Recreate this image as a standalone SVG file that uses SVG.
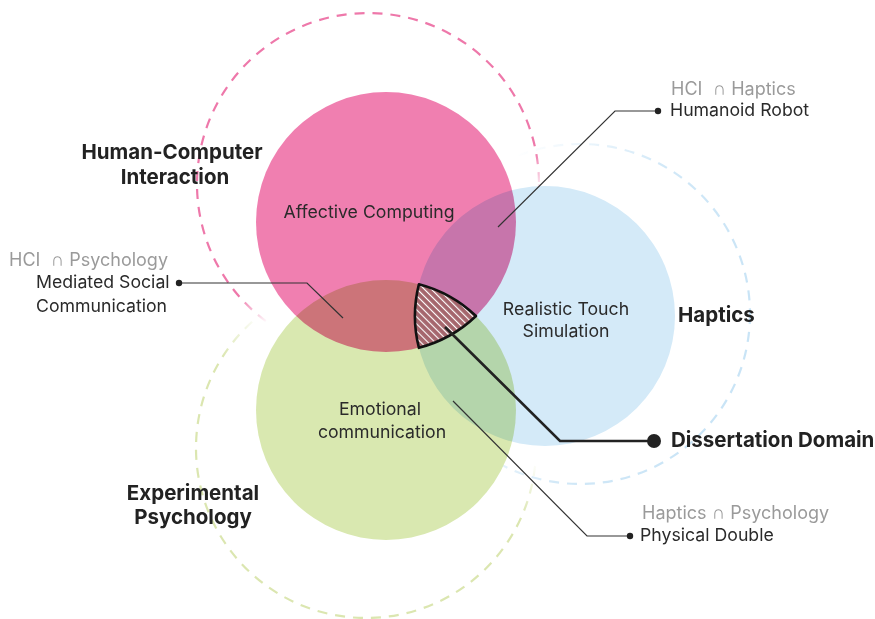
<svg xmlns="http://www.w3.org/2000/svg" width="875" height="619" viewBox="0 0 875 619">
<defs>
  <linearGradient id="gPinkDash" gradientUnits="userSpaceOnUse" x1="388" y1="224" x2="404" y2="257">
    <stop offset="0" stop-color="#ee78aa" stop-opacity="1"/>
    <stop offset="1" stop-color="#ee78aa" stop-opacity="0"/>
  </linearGradient>
  <linearGradient id="gBlueDash" x1="0.95" y1="0.6" x2="0.2" y2="0.35">
    <stop offset="0" stop-color="#c9e4f6" stop-opacity="1"/>
    <stop offset="0.45" stop-color="#c9e4f6" stop-opacity="0.85"/>
    <stop offset="1" stop-color="#c9e4f6" stop-opacity="0"/>
  </linearGradient>
  <linearGradient id="gGreenDash" gradientUnits="userSpaceOnUse" x1="370" y1="436" x2="396" y2="387">
    <stop offset="0" stop-color="#dbe6b0" stop-opacity="1"/>
    <stop offset="1" stop-color="#dbe6b0" stop-opacity="0"/>
  </linearGradient>
  <pattern id="hatch" patternUnits="userSpaceOnUse" width="5" height="5" patternTransform="rotate(-45)">
    <rect width="5" height="5" fill="#a5666d"/>
    <rect x="0" y="0" width="1.1" height="5" fill="#ffffff"/>
  </pattern>
  <style>
    .dash { fill: none; stroke-width: 2.2; stroke-dasharray: 10 8; }
    .blob { mix-blend-mode: multiply; }
    .lbl { font-family: Inter, "Liberation Sans", sans-serif; font-size: 17.7px; fill: #2a2a2a; }
    .cat { font-family: Inter, "Liberation Sans", sans-serif; font-size: 20.5px; font-weight: 700; fill: #222222; }
    .gray { font-family: Inter, "Liberation Sans", "DejaVu Sans", sans-serif; font-size: 18px; fill: #9a9a9a; }
    .cap { font-family: "DejaVu Sans", sans-serif; font-size: 19px; font-weight: 300; }
    .thin { fill: none; stroke: #333333; stroke-width: 1.2; }
    .thick { fill: none; stroke: #222222; stroke-width: 2.6; }
  </style>
</defs>
<rect width="875" height="619" fill="#ffffff"/>

<g id="dashed-rings">
  <circle cx="368" cy="184" r="171" class="dash" stroke="url(#gPinkDash)"/>
  <circle cx="580" cy="314" r="170" class="dash" stroke="url(#gBlueDash)"/>
  <circle cx="366" cy="448" r="170" class="dash" stroke="url(#gGreenDash)"/>
</g>

<g id="circles" style="isolation:isolate">
  <g id="node-affective"><circle class="blob" cx="386" cy="222" r="130" fill="#f07fb0"/></g>
  <g id="node-touch"><circle class="blob" cx="545" cy="316" r="130" fill="#d4eaf8"/></g>
  <g id="node-emotional"><circle class="blob" cx="386" cy="410" r="130" fill="#d9e8b0"/></g>
</g>

<g id="node-dissertation-region">
  <path d="M418.9 284.2 A130 130 0 0 1 476 316 A130 130 0 0 1 418.9 347.8 A130 130 0 0 1 418.9 284.2 Z" fill="url(#hatch)" stroke="#111111" stroke-width="2.6" stroke-linejoin="round"/>
</g>

<g id="connectors">
  <polyline class="thin" points="179,283 307,283 343,318"/>
  <circle cx="179" cy="283" r="3.2" fill="#222"/>
  <polyline class="thin" points="658,111 615,111 498,227"/>
  <circle cx="658" cy="111" r="3.2" fill="#222"/>
  <polyline class="thin" points="630,536 587,536 453,401"/>
  <circle cx="630" cy="536" r="3.2" fill="#222"/>
  <polyline class="thick" points="445,327 560,441 654,441"/>
  <circle cx="654" cy="441" r="7" fill="#222"/>
</g>

<g id="labels-circles">
  <text class="lbl" x="369" y="218" text-anchor="middle">Affective Computing</text>
  <text class="lbl" x="566" y="315" text-anchor="middle">Realistic Touch</text>
  <text class="lbl" x="566" y="337" text-anchor="middle">Simulation</text>
  <text class="lbl" x="380" y="415" text-anchor="middle">Emotional</text>
  <text class="lbl" x="382" y="438" text-anchor="middle">communication</text>
</g>

<g id="labels-categories">
  <text class="cat" x="172" y="159" text-anchor="middle">Human-Computer</text>
  <text class="cat" x="175" y="184" text-anchor="middle">Interaction</text>
  <text class="cat" x="678" y="322">Haptics</text>
  <text class="cat" x="193" y="500" text-anchor="middle">Experimental</text>
  <text class="cat" x="193" y="524" text-anchor="middle">Psychology</text>
  <text class="cat" x="671" y="447">Dissertation Domain</text>
</g>

<g id="labels-intersections">
  <text class="gray" x="9" y="266" xml:space="preserve">HCI  <tspan class="cap">∩</tspan> Psychology</text>
  <text class="lbl" x="36" y="288">Mediated Social</text>
  <text class="lbl" x="36" y="312">Communication</text>
  <text class="gray" x="671" y="95" xml:space="preserve">HCI  <tspan class="cap">∩</tspan> Haptics</text>
  <text class="lbl" x="670" y="116">Humanoid Robot</text>
  <text class="gray" x="642" y="519" xml:space="preserve">Haptics <tspan class="cap">∩</tspan> Psychology</text>
  <text class="lbl" x="640" y="541">Physical Double</text>
</g>
</svg>
